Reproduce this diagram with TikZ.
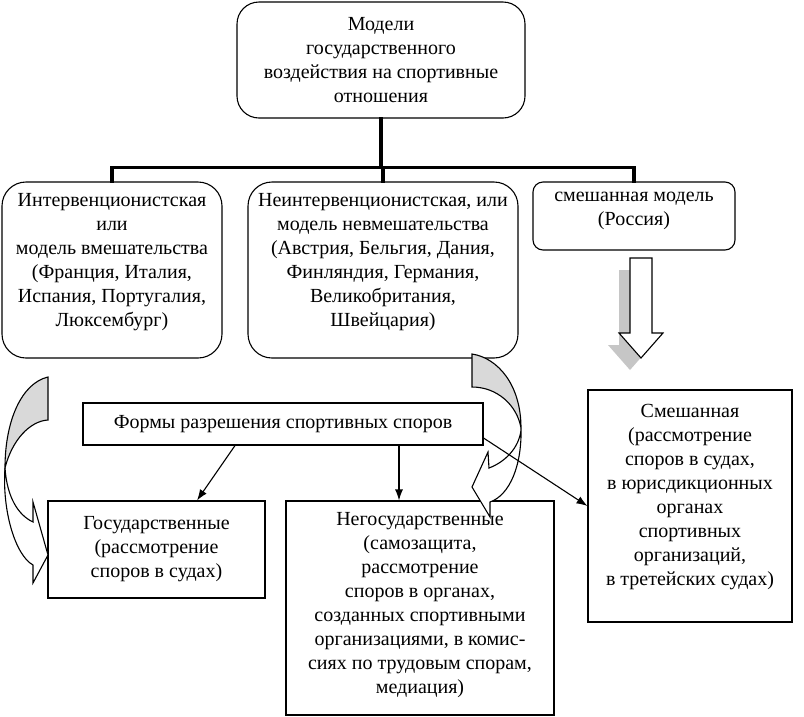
\documentclass[tikz,border=0pt]{standalone}
\usepackage{fontspec}
\setmainfont{Liberation Serif}
\usetikzlibrary{arrows.meta}
\tikzset{>={Latex[length=11pt,width=8pt]}}

\begin{document}
\begin{tikzpicture}[x=1pt,y=-1pt,line width=1.1pt,
  txt/.style={align=center,inner sep=2pt,font=\fontsize{20}{24}\selectfont},
  rbox/.style={txt,draw,rounded corners=#1},
  sbox/.style={txt,draw},
  tree/.style={line width=3.6pt,line cap=rect},
  link/.style={->,line width=1.1pt}]
\useasboundingbox (0,0) rectangle (804,716);
\node[rbox=22pt,minimum width=288pt,minimum height=116pt] (models) at (381,60) {Модели\\государственного\\воздействия на спортивные\\отношения};
\node[rbox=24pt,minimum width=220pt,minimum height=176pt,text depth=20pt] (interv) at (112,270) {Интервенционистская\\или\\модель вмешательства\\(Франция, Италия,\\Испания, Португалия,\\Люксембург)};
\node[rbox=24pt,minimum width=270pt,minimum height=176pt,text depth=20pt] (noninterv) at (383,270) {Неинтервенционистская, или\\модель невмешательства\\(Австрия, Бельгия, Дания,\\Финляндия, Германия,\\Великобритания,\\Швейцария)};
\node[rbox=10pt,minimum width=202pt,minimum height=68pt,text depth=14pt] (mixed) at (634,216) {смешанная модель\\(Россия)};
\node[sbox,minimum width=400pt,minimum height=42pt] (forms) at (283,424) {Формы разрешения спортивных споров};
\node[sbox,minimum width=217pt,minimum height=97pt] (state) at (156.5,549.5) {Государственные\\(рассмотрение\\споров в судах)};
\node[sbox,minimum width=268pt,minimum height=214pt,text depth=11pt] (nonstate) at (420,608) {Негосударственные\\(самозащита,\\рассмотрение\\споров в органах,\\созданных спортивными\\организациями, в комис-\\сиях по трудовым спорам,\\медиация)};
\node[sbox,minimum width=204pt,minimum height=232pt,text depth=22pt] (combined) at (690,506) {Смешанная\\(рассмотрение\\споров в судах,\\в юрисдикционных\\органах\\спортивных\\организаций,\\в третейских судах)};
\draw[tree] (models.south) -- ++(0,49) coordinate (fork);
\draw[tree] (fork -| interv.north) -- (fork -| mixed.north);
\foreach \n in {interv,noninterv,mixed}
  \draw[tree] (fork -| \n.north) -- (\n.north);
\fill[gray!45] (619,270) -- (641,270) -- (641,345) -- (652,345) -- (630,370) -- (608,345) -- (619,345) -- cycle;
\draw[fill=white] (630,258) -- (652,258) -- (652,333) -- (663,333) -- (641,358) -- (619,333) -- (630,333) -- cycle;
\draw[fill=gray!30] (48,377) .. controls (22,383) and (5,420) .. (5,468) .. controls (12,440) and (30,421) .. (48,420) -- cycle;
\draw[fill=white] (5,468) .. controls (2,510) and (15,555) .. (33,565) -- (33,583) -- (48,555) -- (33,502) -- (33,522) .. controls (18,515) and (7,497) .. (5,468) -- cycle;
\draw[fill=gray!30] (472,354) .. controls (498,358) and (521,385) .. (521,428) .. controls (517,405) and (497,387) .. (472,387) -- cycle;
\draw[fill=white] (521,428) .. controls (522,465) and (510,495) .. (490,502) -- (490,517) -- (472,487) -- (488,452) -- (489,468) .. controls (505,462) and (519,448) .. (521,430) -- cycle;
\draw[link] ([xshift=-48pt]forms.south) -- ([xshift=40.5pt]state.north);
\draw[link] ([xshift=116pt]forms.south) -- ([xshift=116pt]forms.south |- nonstate.north);
\draw[link] ([yshift=-14pt]forms.east) -- (combined.west);
\end{tikzpicture}
\end{document}
